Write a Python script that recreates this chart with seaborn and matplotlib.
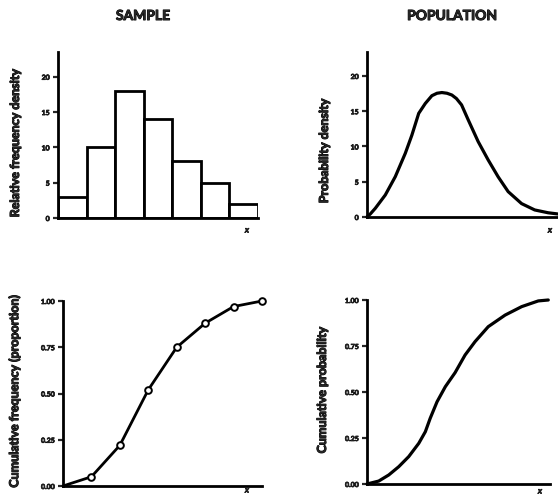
import matplotlib
matplotlib.use("Agg")
import matplotlib.pyplot as plt
import matplotlib.patheffects as pe
import seaborn as sns

# ---- data ----
bin_edges = [0, 1, 2, 3, 4, 5, 6, 7]
bar_heights = [3, 10, 18, 14, 8, 5, 2]
density_ticks = [0, 5, 10, 15, 20]

cum_x = [0, 1, 2, 3, 4, 5, 6, 7]
cum_freq = [0.0, 0.05, 0.22, 0.52, 0.75, 0.88, 0.97, 1.0]
prop_ticks = [0.0, 0.25, 0.5, 0.75, 1.0]
prop_labels = ["0.00", "0.25", "0.50", "0.75", "1.00"]

pdf_x = [0, 0.12, 0.29, 0.64, 0.99, 1.34, 1.57, 1.81, 2.04, 2.27, 2.45, 2.62,
         2.80, 2.97, 3.13, 3.31, 3.54, 3.89, 4.24, 4.59, 4.94, 5.41, 5.87,
         6.34, 6.68, 7.0]
pdf_y = [0, 0.45, 1.23, 3.12, 5.72, 9.03, 11.6, 14.7, 16.1, 17.2, 17.55, 17.65,
         17.55, 17.3, 16.8, 15.9, 13.8, 10.7, 8.1, 5.7, 3.6, 1.9, 1.0,
         0.6, 0.43, 0.36]

cdf_x = [0, 0.41, 0.76, 1.11, 1.46, 1.81, 2.04, 2.21, 2.45, 2.74, 3.08, 3.43,
         3.78, 4.24, 4.83, 5.41, 5.99, 6.34]
cdf_y = [0, 0.016, 0.049, 0.094, 0.149, 0.221, 0.284, 0.357, 0.447, 0.529,
         0.605, 0.701, 0.774, 0.855, 0.918, 0.964, 0.995, 1.0]

titles = ["SAMPLE", "POPULATION"]
ylabels = ["Relative frequency density", "Probability density",
           "Cumulative frequency (proportion)", "Cumulative probability"]

sns.set_style("ticks")
plt.rcParams["font.family"] = ["Lato", "DejaVu Sans"]

W, H = 558, 498
fig = plt.figure(figsize=(W / 100, H / 100), dpi=100)

heavy = [pe.withStroke(linewidth=0.7, foreground="black")]
heavy_small = [pe.withStroke(linewidth=0.5, foreground="black")]


def px_axes(left, right, top, bottom):
    return fig.add_axes([left / W, 1 - bottom / H, (right - left) / W, (bottom - top) / H])


def style(ax, ticks, labels=None):
    sns.despine(ax=ax)
    for s in ("left", "bottom"):
        ax.spines[s].set_linewidth(2.0)
        ax.spines[s].set_color("black")
        ax.spines[s].set_capstyle("projecting")
    ax.set_xticks([])
    ax.set_yticks(ticks)
    if labels is not None:
        ax.set_yticklabels(labels)
    ax.tick_params(axis="y", direction="out", length=3.5, width=1.6, pad=2.5,
                   labelsize=5)
    for t in ax.get_yticklabels():
        t.set_fontweight("bold")
        t.set_path_effects(heavy_small)
    ax.set_xlabel("")
    ax.set_ylabel("")
    ax.patch.set_alpha(0)


# top-left: histogram
ax1 = px_axes(58, 258, 52, 218)
centers = [(a + b) / 2 for a, b in zip(bin_edges[:-1], bin_edges[1:])]
sns.histplot(x=centers, weights=bar_heights, bins=bin_edges, ax=ax1,
             color="white", edgecolor="black", linewidth=2.0, alpha=1)
ax1.set_xlim(0, 7)
ax1.set_ylim(0, 23.5)
style(ax1, density_ticks)

# top-right: probability density
ax2 = px_axes(367, 567, 52, 217)
sns.lineplot(x=pdf_x, y=pdf_y, ax=ax2, color="black", linewidth=2.3,
             clip_on=False, solid_joinstyle="round", solid_capstyle="round")
ax2.set_xlim(0, 7)
ax2.set_ylim(0, 23.4)
style(ax2, density_ticks)

# bottom-left: cumulative frequency
ax3 = px_axes(63, 262, 301, 486)
sns.lineplot(x=cum_x, y=cum_freq, ax=ax3, color="black", linewidth=2.0,
             marker="o", markevery=list(range(1, len(cum_x))), markersize=4.8,
             markerfacecolor="white", markeredgecolor="black", markeredgewidth=1.4,
             clip_on=False)
ax3.set_xlim(0, 7)
ax3.set_ylim(0, 1.0)
style(ax3, prop_ticks, prop_labels)

# bottom-right: cumulative probability
ax4 = px_axes(367, 550, 300, 484)
sns.lineplot(x=cdf_x, y=cdf_y, ax=ax4, color="black", linewidth=2.3,
             clip_on=False, solid_joinstyle="round", solid_capstyle="round")
ax4.set_xlim(0, 6.4)
ax4.set_ylim(0, 1.0)
style(ax4, prop_ticks, prop_labels)

# titles
fig.text(143 / W, 1 - 16 / H, titles[0], ha="center", va="center",
         fontsize=10, fontweight="bold", path_effects=heavy)
fig.text(452 / W, 1 - 16 / H, titles[1], ha="center", va="center",
         fontsize=10, fontweight="bold", path_effects=heavy)

# y labels
lab_pos = [(15, 143), (324, 151), (14, 391), (322, 390)]
for (x, y), lab in zip(lab_pos, ylabels):
    fig.text(x / W, 1 - y / H, lab, rotation=90, ha="center", va="center",
             fontsize=9, fontweight="bold", path_effects=heavy)

# x labels
for x, y in [(247, 230), (550, 230), (247, 490), (540, 491)]:
    fig.text(x / W, 1 - y / H, "x", ha="center", va="center", fontsize=6,
             style="italic", fontweight="bold", path_effects=heavy_small)

fig.savefig("out.png", dpi=100)
